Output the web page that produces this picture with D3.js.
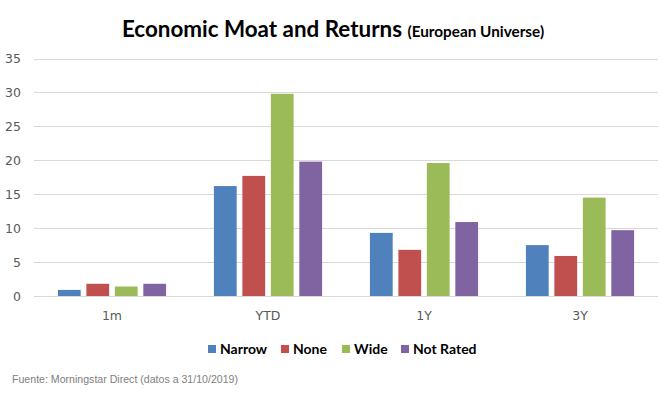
<!DOCTYPE html>
<html><head><meta charset="utf-8">
<script src="https://cdn.jsdelivr.net/npm/d3@7"></script>
<style>body{margin:0;background:#fff}svg{display:block}</style>
</head><body>
<svg id="c" width="659" height="395"></svg>
<script>
const categories = ["1m", "YTD", "1Y", "3Y"];
const seriesNames = ["Narrow", "None", "Wide", "Not Rated"];
const colors = ["#4F81BD", "#C0504D", "#9BBB59", "#8064A2"];
const narrow = [0.9, 16.2, 9.3, 7.5];
const none = [1.8, 17.7, 6.8, 5.9];
const wide = [1.4, 29.8, 19.6, 14.5];
const notRated = [1.8, 19.8, 10.9, 9.7];
const yTicks = [0, 5, 10, 15, 20, 25, 30, 35];
const seriesValues = [narrow, none, wide, notRated];

const svg = d3.select("#c");
const mLeft = 34, mRight = 658, mTop = 58.5, mBottom = 296;
const x0 = d3.scaleBand().domain(categories).range([mLeft, mRight]).paddingInner(0).paddingOuter(0);
const x1 = d3.scaleBand().domain(seriesNames).range([0, x0.bandwidth()]).paddingInner(0.2).paddingOuter(0.84);
const y = d3.scaleLinear().domain([0, 35]).range([mBottom, mTop]);

// gridlines
svg.append("g").selectAll("line").data(yTicks).join("line")
  .attr("x1", mLeft).attr("x2", mRight)
  .attr("y1", d => Math.round(y(d)) + 0.5).attr("y2", d => Math.round(y(d)) + 0.5)
  .attr("stroke", "#D9D9D9").attr("stroke-width", 1);

// y labels
svg.append("g").selectAll("text").data(yTicks).join("text")
  .attr("x", 21).attr("y", d => y(d) + 4.5)
  .attr("text-anchor", "end")
  .attr("font-family", "DejaVu Sans, Verdana, sans-serif").attr("font-size", 12.5)
  .attr("fill", "#595959").text(d => d);

// bars
const g = svg.append("g");
categories.forEach((c, i) => {
  seriesNames.forEach((s, j) => {
    const v = seriesValues[j][i];
    g.append("rect")
      .attr("x", x0(c) + x1(s))
      .attr("width", x1.bandwidth())
      .attr("y", y(v))
      .attr("height", y(0) - y(v))
      .attr("fill", colors[j]);
  });
});

// x labels
svg.append("g").selectAll("text").data(categories).join("text")
  .attr("x", d => x0(d) + x0.bandwidth() / 2).attr("y", 320)
  .attr("text-anchor", "middle")
  .attr("font-family", "DejaVu Sans, Verdana, sans-serif").attr("font-size", 12.5)
  .attr("fill", "#595959").text(d => d);

// title
const t = svg.append("text").attr("x", 333).attr("y", 36.5).attr("text-anchor", "middle")
  .attr("font-family", "Lato, 'Open Sans', sans-serif").attr("font-weight", "bold").attr("fill", "#000");
t.append("tspan").attr("font-size", 22.4).text("Economic Moat and Returns ");
t.append("tspan").attr("font-size", 15.3).text("(European Universe)");

// legend
const legendX = [208, 281, 342, 401];
const lg = svg.append("g");
seriesNames.forEach((s, j) => {
  const lx = legendX[j];
  lg.append("rect").attr("x", lx).attr("y", 345).attr("width", 8).attr("height", 8).attr("fill", colors[j]);
  lg.append("text").attr("x", lx + 12).attr("y", 354)
    .attr("font-family", "Lato, 'Open Sans', sans-serif").attr("font-weight", "bold").attr("font-size", 14)
    .attr("fill", "#000").text(s);
});

// source
svg.append("text").attr("x", 12).attr("y", 383)
  .attr("font-family", "'Liberation Sans Narrow', 'Liberation Sans', Arial, sans-serif").attr("font-size", 11.5)
  .attr("fill", "#808080").attr("textLength", 226).attr("lengthAdjust", "spacingAndGlyphs")
  .text("Fuente: Morningstar Direct (datos a 31/10/2019)");
</script>
</body></html>
